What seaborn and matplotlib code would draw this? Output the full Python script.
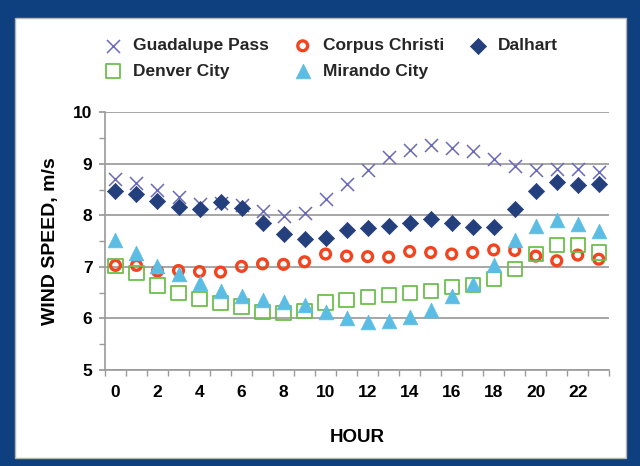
import numpy as np
import pandas as pd
import matplotlib
matplotlib.use("Agg")
import matplotlib.pyplot as plt
from matplotlib.patches import Rectangle
from matplotlib.ticker import MultipleLocator, FixedLocator
import seaborn as sns

# Hourly mean wind speed (m/s) at five Texas sites
hours = list(range(24))
guadalupe_pass = [8.70, 8.63, 8.49, 8.36, 8.23, 8.25, 8.20, 8.09, 7.99, 8.04, 8.31, 8.61,
                  8.88, 9.13, 9.26, 9.36, 9.30, 9.25, 9.09, 8.96, 8.88, 8.90, 8.90, 8.85]
corpus_christi = [7.03, 7.03, 6.92, 6.93, 6.91, 6.90, 7.01, 7.06, 7.05, 7.10, 7.25, 7.21,
                  7.20, 7.19, 7.30, 7.28, 7.25, 7.28, 7.33, 7.32, 7.21, 7.12, 7.23, 7.15]
dalhart = [8.48, 8.41, 8.28, 8.17, 8.13, 8.26, 8.14, 7.85, 7.63, 7.54, 7.56, 7.71,
           7.76, 7.80, 7.86, 7.93, 7.86, 7.78, 7.78, 8.12, 8.48, 8.64, 8.59, 8.61]
denver_city = [7.02, 6.88, 6.64, 6.49, 6.38, 6.30, 6.23, 6.13, 6.10, 6.14, 6.31, 6.36,
               6.42, 6.46, 6.49, 6.53, 6.61, 6.65, 6.76, 6.96, 7.25, 7.43, 7.43, 7.28]
mirando_city = [7.52, 7.27, 7.02, 6.86, 6.68, 6.53, 6.43, 6.36, 6.32, 6.26, 6.13, 6.01,
                5.94, 5.96, 6.03, 6.17, 6.43, 6.66, 7.04, 7.52, 7.79, 7.91, 7.84, 7.70]
x_tick_labels = [str(h) for h in range(0, 24, 2)]
y_tick_values = [5, 6, 7, 8, 9, 10]

sns.set_theme(style="white")
plt.rcParams["font.family"] = ["Liberation Sans", "DejaVu Sans"]
plt.rcParams["font.weight"] = "bold"

fig = plt.figure(figsize=(6.4, 4.66), dpi=100)
fig.patch.set_facecolor("#0e3f7e")

# White card behind the chart
card = Rectangle((0.0234, 0.017), 0.955, 0.944, transform=fig.transFigure,
                 facecolor="white", edgecolor="#b5b5b5", linewidth=1.0, zorder=-5)
fig.patches.append(card)

ax = fig.add_axes([0.164, 0.206, 0.788, 0.553])
ax.set_facecolor("white")
ax.set_zorder(2)

series = [
    ("Guadalupe Pass", guadalupe_pass, dict(marker="x", color="#6b6bbd", s=88, linewidth=1.1)),
    ("Corpus Christi", corpus_christi, dict(marker="o", facecolor="none", edgecolor="#f2451f",
                                            s=50, linewidth=2.4)),
    ("Dalhart", dalhart, dict(marker="D", color="#233f7c", edgecolor="#233f7c", s=68, linewidth=0.5)),
    ("Denver City", denver_city, dict(marker="s", facecolor="none", edgecolor="#6cbf4c",
                                      s=105, linewidth=1.3)),
    ("Mirando City", mirando_city, dict(marker="^", color="#5bbde3", edgecolor="#5bbde3",
                                        s=112, linewidth=0.5)),
]

for name, vals, style in series:
    df = pd.DataFrame({"hour": hours, "speed": vals})
    sns.scatterplot(data=df, x="hour", y="speed", ax=ax, label=name, zorder=3, **style)

ax.set_xlim(-0.5, 23.5)
ax.set_ylim(5, 10)
ax.yaxis.set_major_locator(FixedLocator(y_tick_values))
ax.yaxis.set_minor_locator(MultipleLocator(0.5))
ax.xaxis.set_major_locator(FixedLocator(list(range(0, 24, 2))))
ax.set_xticklabels(x_tick_labels)
ax.xaxis.set_minor_locator(FixedLocator(np.arange(-0.5, 24, 1.0)))

ax.grid(axis="y", which="major", color="#a6a6a6", linewidth=1.4, zorder=1)
ax.set_axisbelow(True)
for side in ("top", "right"):
    ax.spines[side].set_visible(False)
for side in ("left", "bottom"):
    ax.spines[side].set_color("#9a9a9a")
    ax.spines[side].set_linewidth(1.2)

ax.tick_params(axis="y", which="major", direction="out", length=4, color="#9a9a9a",
               labelsize=12.5, pad=5, left=True)
ax.tick_params(axis="y", which="minor", direction="out", length=4, color="#9a9a9a", left=True)
ax.tick_params(axis="x", which="major", length=0, labelsize=12.5, pad=11)
ax.tick_params(axis="x", which="minor", direction="out", length=4, color="#9a9a9a", bottom=True)
for lbl in ax.get_xticklabels() + ax.get_yticklabels():
    lbl.set_fontweight("bold")
    lbl.set_color("black")

ax.set_xlabel("HOUR", fontsize=13.5, fontweight="bold", labelpad=21, color="black")
ax.set_ylabel("WIND SPEED, m/s", fontsize=14, fontweight="bold", labelpad=10, color="black")

h, l = ax.get_legend_handles_labels()
lookup = dict(zip(l, h))
order = ["Guadalupe Pass", "Denver City", "Corpus Christi", "Mirando City", "Dalhart"]
fig.legend([lookup[n] for n in order], order, ncol=3, loc="upper left",
           bbox_to_anchor=(0.163, 0.918), bbox_transform=fig.transFigure, frameon=False,
           handlelength=1.0, columnspacing=1.45, handletextpad=0.65, labelspacing=0.6,
           borderpad=0, borderaxespad=0, prop={"weight": "bold", "size": 12.5})
ax.get_legend().remove()

fig.savefig("out.png", dpi=100, facecolor=fig.get_facecolor())
